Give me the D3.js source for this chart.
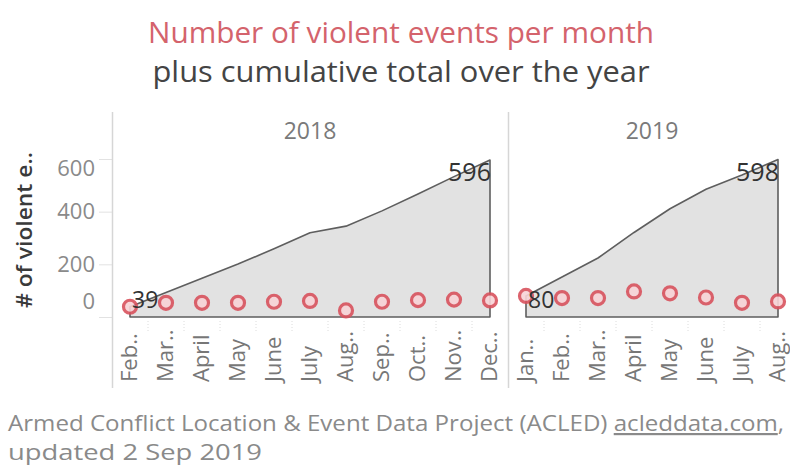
<!DOCTYPE html>
<html>
<head>
<meta charset="utf-8">
<script src="https://cdn.jsdelivr.net/npm/d3@7/dist/d3.min.js"></script>
<style>
  html, body { margin: 0; padding: 0; background: #fff; }
  svg { display: block; font-family: "Open Sans", "Noto Sans", sans-serif; }
</style>
</head>
<body>
<svg id="chart" width="790" height="466"></svg>
<script>
// ---------- data ----------
const years = ["2018", "2019"];
const months2018 = ["Feb..", "Mar..", "April", "May", "June", "July", "Aug..", "Sep..", "Oct..", "Nov..", "Dec.."];
const events2018 = [39, 54, 54, 54, 58, 61, 25, 58, 64, 66, 63];
const months2019 = ["Jan..", "Feb..", "Mar..", "April", "May", "June", "July", "Aug.."];
const events2019 = [80, 72, 72, 97, 90, 74, 54, 59];
const yTicks = [0, 200, 400, 600];

const titleText = "Number of violent events per month";
const subtitleText = "plus cumulative total over the year";
const yTitle = "# of violent e..";
const sourceText = "Armed Conflict Location & Event Data Project (ACLED) ";
const sourceLink = "acleddata.com";
const updatedText = "updated 2 Sep 2019";

// ---------- layout ----------
const svg = d3.select("#chart");
const step = 36;
const panelLeft = 112;
const paneTop = 112, paneBottom = 388;
const y = d3.scaleLinear().domain([0, 600]).range([317, 159]);

const panels = [
  { year: years[0], months: months2018, values: events2018 },
  { year: years[1], months: months2019, values: events2019 }
];
let xStart = panelLeft;
panels.forEach(p => {
  p.x = d3.scaleBand().domain(p.months).range([xStart, xStart + p.months.length * step]).padding(0);
  p.cum = Array.from(d3.cumsum(p.values));
  xStart += p.months.length * step;
});

// ---------- titles ----------
svg.append("text").attr("x", 401).attr("y", 43).attr("text-anchor", "middle")
  .attr("font-size", 29).attr("fill", "#d4636c")
  .attr("textLength", 506).attr("lengthAdjust", "spacingAndGlyphs")
  .text(titleText);
svg.append("text").attr("x", 401).attr("y", 82).attr("text-anchor", "middle")
  .attr("font-size", 29).attr("fill", "#444")
  .attr("textLength", 497).attr("lengthAdjust", "spacingAndGlyphs")
  .text(subtitleText);

// ---------- y axis ----------
const yAxisG = svg.append("g").attr("transform", `translate(${panelLeft},0)`)
  .call(d3.axisLeft(y).tickValues(yTicks).tickSize(13).tickPadding(4));
yAxisG.select(".domain").remove();
yAxisG.selectAll(".tick line").attr("stroke", "#e2e2e2");
yAxisG.selectAll(".tick text")
  .attr("font-size", 22).attr("fill", "#8a8a8a")
  .attr("font-family", "Open Sans, sans-serif")
  .attr("transform", d => {
    // Tableau keeps edge labels inside the pane
    const ty = y(d);
    const clamped = Math.min(Math.max(ty, y(600) + 9), y(0) - 16);
    return `translate(0,${clamped - ty})`;
  });

svg.append("text")
  .attr("transform", `translate(32,230) rotate(-90)`)
  .attr("text-anchor", "middle").attr("font-size", 22).attr("font-weight", 600).attr("fill", "#3a3a3a")
  .attr("textLength", 156).attr("lengthAdjust", "spacingAndGlyphs")
  .text(yTitle);

// vertical pane lines
[panelLeft, panels[1].x.range()[0]].forEach(xv => {
  svg.append("line").attr("x1", xv + 0.5).attr("x2", xv + 0.5)
    .attr("y1", paneTop).attr("y2", paneBottom)
    .attr("stroke", "#d6d6d6").attr("stroke-width", 1.5);
});

// ---------- panels ----------
panels.forEach((p, pi) => {
  const g = svg.append("g");
  const cx = d => p.x(d) + p.x.bandwidth() / 2;
  const [r0, r1] = p.x.range();

  // year header
  g.append("text").attr("x", (r0 + r1) / 2).attr("y", 139).attr("text-anchor", "middle")
    .attr("font-size", 23).attr("fill", "#7a7a7a").text(p.year);

  // faint tick marks at band edges
  p.months.forEach((m, i) => {
    if (i === 0) return;
    g.append("line").attr("x1", p.x(m)).attr("x2", p.x(m))
      .attr("y1", 321).attr("y2", 331)
      .attr("stroke", "#dcdcdc").attr("stroke-dasharray", "1,2");
  });

  // cumulative area
  const pts = p.months.map((m, i) => ({ m, v: p.cum[i] }));
  const area = d3.area().x(d => cx(d.m)).y0(y(0)).y1(d => y(d.v));
  g.append("path").datum(pts).attr("d", area)
    .attr("fill", "#e2e2e2").attr("stroke", "#5e5e5e").attr("stroke-width", 1.6)
    .attr("stroke-linejoin", "round");

  // monthly circles
  g.selectAll("circle").data(p.months.map((m, i) => ({ m, v: p.values[i] })))
    .join("circle")
    .attr("cx", d => cx(d.m)).attr("cy", d => y(d.v)).attr("r", 6.5)
    .attr("fill", "#f8d3d6").attr("stroke", "#d9535e").attr("stroke-width", 3.2)
    .attr("opacity", 0.9);

  // start / end labels
  const first = pts[0], last = pts[pts.length - 1];
  g.append("text").attr("x", cx(first.m) + 2)
    .attr("y", Math.min(y(first.v) + 4, y(0) - 17)).attr("dy", "0.35em")
    .attr("font-size", 23).attr("fill", "#333").text(first.v);
  g.append("text").attr("x", cx(last.m) + 1).attr("y", y(last.v) + 21)
    .attr("text-anchor", "end").attr("font-size", 26).attr("fill", "#333")
    .attr("textLength", 43).attr("lengthAdjust", "spacingAndGlyphs")
    .text(last.v);

  // month labels (read upward, starting at a common baseline)
  const xAxisG = g.append("g").attr("transform", `translate(0,382)`)
    .call(d3.axisBottom(p.x).tickSize(0).tickPadding(0));
  xAxisG.select(".domain").remove();
  xAxisG.selectAll(".tick text")
    .style("font-size", "22px").attr("fill", "#777").style("font-family", "Open Sans, sans-serif")
    .attr("transform", "rotate(-90)").attr("text-anchor", "start")
    .attr("x", 0).attr("y", 0).attr("dy", "0.33em");
});

// ---------- footer ----------
const foot = svg.append("text").attr("x", 8).attr("y", 431).attr("font-size", 22).attr("fill", "#8a8a8a")
  .attr("textLength", 776).attr("lengthAdjust", "spacingAndGlyphs");
foot.append("tspan").text(sourceText);
foot.append("tspan").attr("text-decoration", "underline").text(sourceLink);
foot.append("tspan").text(",");
svg.append("text").attr("x", 8).attr("y", 460).attr("font-size", 22).attr("fill", "#8a8a8a")
  .attr("textLength", 254).attr("lengthAdjust", "spacingAndGlyphs")
  .text(updatedText);
</script>
</body>
</html>
